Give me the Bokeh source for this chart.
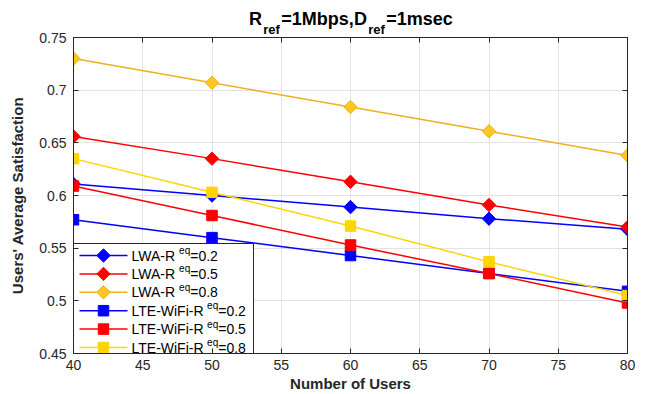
import math
from bokeh.plotting import figure
from bokeh.models import Range1d, LinearAxis, FixedTicker, CustomJSTickFormatter, Label
from bokeh.embed import file_html
from bokeh.resources import INLINE

# ---------------- data ----------------
users = [40, 50, 60, 70, 80]
lwa_r02 = [0.611, 0.600, 0.589, 0.578, 0.568]
lwa_r05 = [0.656, 0.635, 0.613, 0.591, 0.570]
lwa_r08 = [0.730, 0.707, 0.684, 0.661, 0.638]
lte_r02 = [0.577, 0.560, 0.543, 0.526, 0.509]
lte_r05 = [0.609, 0.581, 0.553, 0.526, 0.498]
lte_r08 = [0.635, 0.603, 0.571, 0.537, 0.505]

x_ticks = [40, 45, 50, 55, 60, 65, 70, 75, 80]
y_ticks = [0.45, 0.5, 0.55, 0.6, 0.65, 0.7, 0.75]

legend_names = ["LWA-R", "LWA-R", "LWA-R", "LTE-WiFi-R", "LTE-WiFi-R", "LTE-WiFi-R"]
legend_values = ["=0.2", "=0.5", "=0.8", "=0.2", "=0.5", "=0.8"]

title_parts = [("R", "main"), ("ref", "sub"), ("=1Mbps,", "main"),
               ("D", "main"), ("ref", "sub"), ("=1msec", "main")]

# ---------------- styles ----------------
BLUE, RED = "#0000FF", "#FF0000"
series = [
    (lwa_r02, "diamond", BLUE, BLUE, BLUE),
    (lwa_r05, "diamond", RED, RED, RED),
    (lwa_r08, "diamond", "#EDB120", "#FFC61E", "#EDB120"),
    (lte_r02, "square", BLUE, BLUE, BLUE),
    (lte_r05, "square", RED, RED, RED),
    (lte_r08, "square", "#FFD500", "#FFD500", "#FFD500"),
]

FONT = "Liberation Sans"
W, H = 645, 394
LEFT, RIGHT, TOP, BOTTOM = 73, 18, 37, 41
FW, FH = W - LEFT - RIGHT, H - TOP - BOTTOM

NORMAL = {"L": 556, "W": 944, "A": 667, "-": 333, "R": 722, "T": 611, "E": 667,
          "i": 222, "F": 611, "=": 584, ".": 278, "e": 556, "q": 556}
BOLD = {"R": 722, "r": 389, "e": 556, "f": 333, "=": 584, "M": 833, "b": 611, "p": 611,
        "s": 556, ",": 278, "D": 722, "m": 889, "c": 556}
for d in "0123456789":
    NORMAL[d] = 556
    BOLD[d] = 556

def tw(s, size, table):
    return sum(table.get(ch, 556) for ch in s) * size / 1000.0

p = figure(width=W, height=H, x_range=Range1d(40, 80), y_range=Range1d(0.45, 0.75),
           output_backend="svg", toolbar_location=None, title=None,
           min_border_left=LEFT, min_border_right=RIGHT,
           min_border_top=TOP, min_border_bottom=BOTTOM,
           x_axis_label="Number of Users", y_axis_label="Users' Average Satisfaction")
p.background_fill_color = "white"
p.border_fill_color = "white"
p.outline_line_color = "#262626"

p.extra_x_ranges = {"px": Range1d(0, FW)}
p.extra_y_ranges = {"py": Range1d(0, FH)}

fmt_y = CustomJSTickFormatter(code="return tick.toFixed(2).replace(/0$/, '');")
blank = CustomJSTickFormatter(code="return '';")

def style_axis(ax, ticks, show_labels=True):
    ax.ticker = FixedTicker(ticks=ticks)
    ax.minor_tick_line_color = None
    ax.minor_tick_in = 0
    ax.minor_tick_out = 0
    ax.major_tick_in = 5
    ax.major_tick_out = 0
    ax.axis_line_color = "#262626"
    ax.major_tick_line_color = "#262626"
    ax.major_label_text_font = FONT
    ax.major_label_text_color = "#262626"
    if show_labels:
        ax.major_label_text_font_size = "14px"
    else:
        ax.formatter = blank
        ax.major_label_text_font_size = "0px"
        ax.major_label_standoff = 0
    ax.axis_label_text_font = FONT
    ax.axis_label_text_font_style = "bold"
    ax.axis_label_text_font_size = "15px"
    ax.axis_label_text_color = "#262626"

xa = p.xaxis[0]
ya = p.yaxis[0]
style_axis(xa, x_ticks)
style_axis(ya, y_ticks)
ya.formatter = fmt_y
xa.major_label_standoff = 6
xa.axis_label_standoff = 2
ya.major_label_standoff = 7
ya.axis_label_standoff = 10

top_ax = LinearAxis()
right_ax = LinearAxis()
style_axis(top_ax, x_ticks, False)
style_axis(right_ax, y_ticks, False)
p.add_layout(top_ax, "above")
p.add_layout(right_ax, "right")

# ---------------- title (as text of label-only axes above the frame) ----------------
MAIN_FS, SUB_FS = 18, 13
GAP = 1.0
widths = [tw(t, MAIN_FS if k == "main" else SUB_FS, BOLD) + GAP for t, k in title_parts]
title_center = 351 - LEFT
xpos = title_center - sum(widths) / 2.0
main_pos, main_txt, sub_pos, sub_txt = [], [], [], []
for (t, k), w_ in zip(title_parts, widths):
    c = round(xpos + (w_ - GAP) / 2.0)
    if k == "main":
        main_pos.append(c); main_txt.append(t)
    else:
        sub_pos.append(c); sub_txt.append(t)
    xpos += w_

def text_axis(positions, texts, size, standoff):
    ax = LinearAxis(x_range_name="px")
    ax.ticker = FixedTicker(ticks=positions)
    ax.formatter = CustomJSTickFormatter(
        args=dict(pos=positions, txt=texts),
        code="const i = pos.findIndex(v => Math.abs(v - tick) < 0.5); return i >= 0 ? txt[i] : '';")
    ax.axis_line_color = None
    ax.major_tick_line_color = None
    ax.minor_tick_line_color = None
    ax.major_tick_in = 0
    ax.major_tick_out = 0
    ax.minor_tick_in = 0
    ax.minor_tick_out = 0
    ax.major_label_text_font = FONT
    ax.major_label_text_font_style = "bold"
    ax.major_label_text_font_size = f"{size}px"
    ax.major_label_text_color = "black"
    ax.major_label_standoff = standoff
    return ax

p.add_layout(text_axis(sub_pos, sub_txt, SUB_FS, 1), "above")
p.add_layout(text_axis(main_pos, main_txt, MAIN_FS, -10), "above")

p.xgrid.ticker = FixedTicker(ticks=x_ticks)
p.ygrid.ticker = FixedTicker(ticks=y_ticks)
p.grid.grid_line_color = "#E3E3E3"
p.grid.grid_line_width = 1

DIAMOND_SIZE = 9.5
SQUARE_SIZE = 10.5

def marker_kw(kind):
    if kind == "diamond":
        return dict(marker="square", size=DIAMOND_SIZE, angle=math.pi / 4)
    return dict(marker="square", size=SQUARE_SIZE)

for ys, kind, lc, fc, ec in series:
    p.line(users, ys, line_color=lc, line_width=1.5)
    p.scatter(users, ys, fill_color=fc, line_color=ec, line_width=1, **marker_kw(kind))

# ---------------- legend (frame pixel coordinates) ----------------
LEG_LEFT, LEG_RIGHT = 0, 180
LEG_TOP = FH - (243 - TOP)
LEG_BOTTOM = -3
ROW0 = FH - (255 - TOP)
ROW_STEP = 18.4

p.quad(left=[LEG_LEFT], right=[LEG_RIGHT], top=[LEG_TOP], bottom=[LEG_BOTTOM],
       fill_color="white", line_color="#262626", line_width=1,
       x_range_name="px", y_range_name="py")

LEG_FS = 14
SUP_FS = 10
for i, (ys, kind, lc, fc, ec) in enumerate(series):
    yrow = ROW0 - i * ROW_STEP
    p.line([LEG_LEFT + 6, LEG_LEFT + 54], [yrow, yrow], line_color=lc, line_width=1.5,
           x_range_name="px", y_range_name="py")
    p.scatter([LEG_LEFT + 30], [yrow], fill_color=fc, line_color=ec, line_width=1,
              x_range_name="px", y_range_name="py", **marker_kw(kind))
    tx = LEG_LEFT + 58
    name = legend_names[i]
    p.add_layout(Label(x=tx, y=yrow, text=name, x_range_name="px", y_range_name="py",
                       text_font=FONT, text_font_size=f"{LEG_FS}px", text_baseline="middle",
                       text_color="black"))
    sx = tx + tw(name, LEG_FS, NORMAL) + 2.5
    p.add_layout(Label(x=sx, y=yrow + 5, text="eq", x_range_name="px", y_range_name="py",
                       text_font=FONT, text_font_size=f"{SUP_FS}px", text_baseline="middle",
                       text_color="black"))
    vx = sx + tw("eq", SUP_FS, NORMAL)
    p.add_layout(Label(x=vx, y=yrow, text=legend_values[i], x_range_name="px", y_range_name="py",
                       text_font=FONT, text_font_size=f"{LEG_FS}px", text_baseline="middle",
                       text_color="black"))

open("out.html", "w").write(file_html(p, INLINE))
